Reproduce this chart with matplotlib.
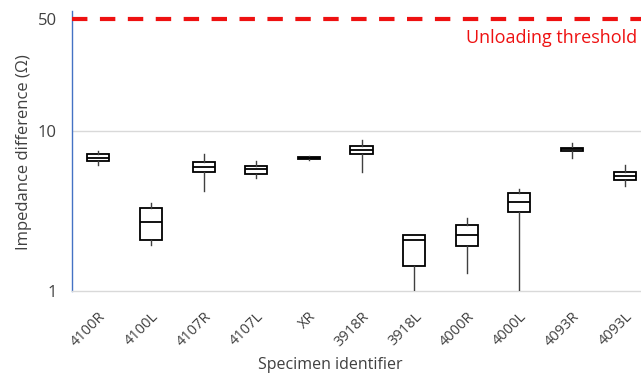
import matplotlib
matplotlib.use("Agg")
import matplotlib.pyplot as plt

specimens = ["4100R", "4100L", "4107R", "4107L", "XR", "3918R", "3918L",
             "4000R", "4000L", "4093R", "4093L"]
whisker_low = [6.14, 1.95, 4.24, 5.08, 6.56, 5.53, 1.00, 1.29, 1.00, 6.81, 4.56]
q1 = [6.50, 2.08, 5.51, 5.40, 6.72, 7.14, 1.43, 1.92, 3.10, 7.49, 4.91]
median = [6.81, 2.70, 5.99, 5.80, 6.81, 7.60, 2.09, 2.24, 3.58, 7.71, 5.25]
q3 = [7.14, 3.31, 6.44, 6.08, 6.91, 8.08, 2.25, 2.58, 4.07, 7.88, 5.53]
whisker_high = [7.49, 3.56, 7.14, 6.50, 7.01, 8.76, 2.25, 2.87, 4.37, 8.47, 6.14]
threshold = 50
threshold_label = "Unloading threshold"
y_ticks = [1, 10, 50]

plt.rcParams['font.family'] = ['Open Sans', 'DejaVu Sans']

W, H = 641, 374
fig = plt.figure(figsize=(W / 100, H / 100), dpi=100)
left_px, bottom_px, top_px, right_px = 72, 291, 11, 651
ax = fig.add_axes([left_px / W, (H - bottom_px) / H,
                   (right_px - left_px) / W, (bottom_px - top_px) / H])

stats = []
for i, name in enumerate(specimens):
    stats.append(dict(label=name, whislo=whisker_low[i], q1=q1[i], med=median[i],
                      q3=q3[i], whishi=whisker_high[i], fliers=[]))

positions = list(range(1, len(specimens) + 1))
ax.bxp(stats, positions=positions, widths=0.42, showcaps=False, showfliers=False,
       patch_artist=True,
       boxprops=dict(facecolor="white", edgecolor="black", linewidth=1.3),
       medianprops=dict(color="black", linewidth=1.3),
       whiskerprops=dict(color="#404040", linewidth=1.0),
       zorder=3)

ax.set_yscale("log")
ax.set_ylim(1, 56.2)
ax.set_xlim(0.5, len(specimens) + 0.5)

ax.axhline(10, color="#d9d9d9", linewidth=1.0, zorder=1)
ax.axhline(threshold, color="#ee1111", linewidth=3.0, linestyle=(0, (3.7, 3.0)),
           dash_capstyle="butt", zorder=4, clip_on=False)
ax.text(11.23, 38, threshold_label, color="#ee1111", fontsize=13,
        ha="right", va="center")

ax.set_yticks(y_ticks)
ax.set_yticklabels([str(t) for t in y_ticks])
ax.yaxis.set_minor_locator(matplotlib.ticker.NullLocator())
ax.tick_params(axis="y", length=0, pad=11, labelsize=12, labelcolor="#404040")
ax.set_xticks(positions)
ax.set_xticklabels(specimens, rotation=45, ha="right", rotation_mode="anchor")
ax.tick_params(axis="x", length=0, pad=13, labelsize=10.5, labelcolor="#404040")

for s in ["top", "right"]:
    ax.spines[s].set_visible(False)
ax.spines["left"].set_color("#4472c4")
ax.spines["left"].set_linewidth(1.0)
ax.spines["bottom"].set_color("#d9d9d9")
ax.spines["bottom"].set_linewidth(1.0)

ax.set_ylabel("Impedance difference (Ω)", fontsize=12, color="#404040")
ax.yaxis.set_label_coords((24 - left_px) / (right_px - left_px), (bottom_px - 152) / (bottom_px - top_px))
ax.yaxis.label.set_va("center")
ax.set_xlabel("Specimen identifier", fontsize=11.5, color="#404040")
ax.xaxis.set_label_coords((330 - left_px) / (right_px - left_px), -(365 - bottom_px) / (bottom_px - top_px))
ax.xaxis.label.set_va("center")

fig.savefig("out.png", dpi=100)
